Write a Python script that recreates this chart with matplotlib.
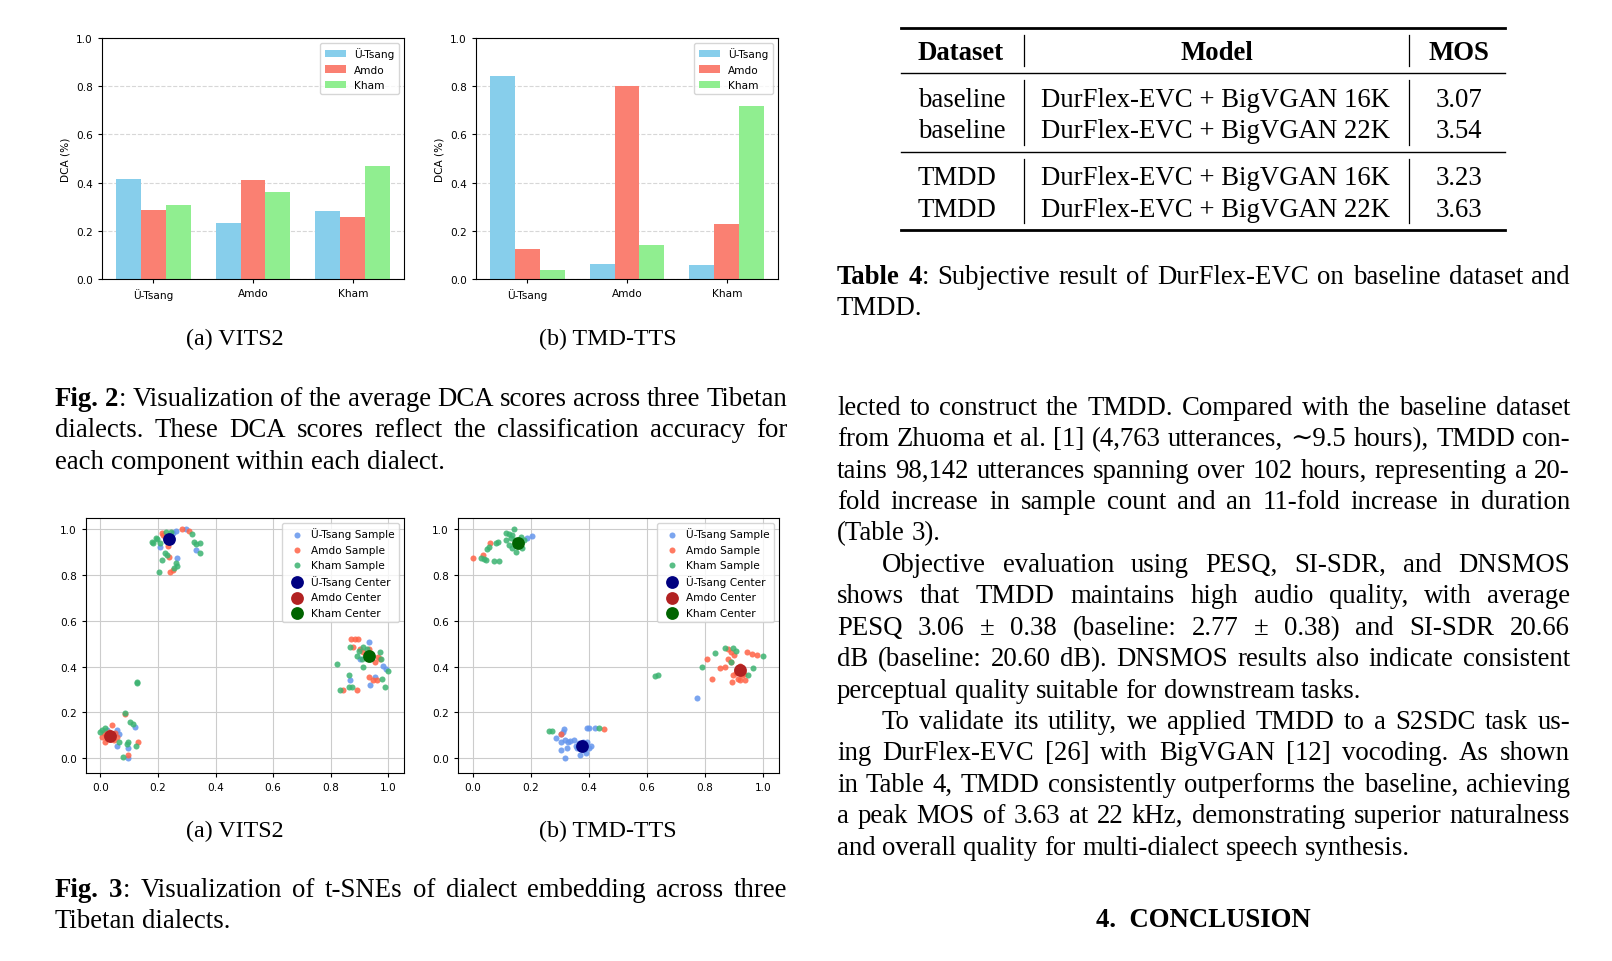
import numpy as np
import matplotlib.pyplot as plt

W, H = 1612, 962
FS = 19.25         # body text size (pt)
SUB = 17.3         # sub-caption size (pt)
TS = 7.6           # chart text size (pt)
SERIF = ['Liberation Serif', 'DejaVu Serif']

# ---- Fig. 2 data (DCA per dialect group) ----
dialects = ['Ü-Tsang', 'Amdo', 'Kham']
vits2_utsang = [0.413, 0.231, 0.284]
vits2_amdo = [0.288, 0.411, 0.256]
vits2_kham = [0.306, 0.363, 0.467]
tmd_utsang = [0.842, 0.062, 0.058]
tmd_amdo = [0.123, 0.802, 0.230]
tmd_kham = [0.037, 0.140, 0.716]

# ---- Fig. 3 data (t-SNE points) ----
vits2_utsang_pts = [(0.223, 0.968), (0.261, 0.994), (0.297, 1.0), (0.331, 0.910), (0.265, 0.874),
                    (0.206, 0.925), (0.254, 0.986), (0.24, 0.95),
                    (0.057, 0.123), (0.065, 0.104), (0.097, 0.043), (0.097, 0.0), (0.12, 0.137),
                    (0.057, 0.051), (0.023, 0.123),
                    (0.933, 0.509), (0.937, 0.318), (0.983, 0.405), (0.994, 0.390), (0.866, 0.340),
                    (0.954, 0.354), (0.903, 0.434)]
vits2_amdo_pts = [(0.215, 0.986), (0.217, 0.975), (0.282, 1.0), (0.309, 0.994), (0.234, 0.928),
                  (0.237, 0.881), (0.242, 0.816), (0.251, 0.821), (0.229, 0.971),
                  (0.011, 0.108), (0.023, 0.087), (0.04, 0.145), (0.046, 0.079), (0.017, 0.072),
                  (0.057, 0.094), (0.086, 0.195), (0.131, 0.072), (0.097, 0.014), (0.029, 0.116),
                  (0.006, 0.094), (0.051, 0.108), (0.02, 0.1), (0.035, 0.082),
                  (0.871, 0.523), (0.886, 0.523), (0.894, 0.520), (0.878, 0.484), (0.903, 0.477),
                  (0.934, 0.477), (0.954, 0.419), (0.966, 0.441), (0.935, 0.354), (0.946, 0.340),
                  (0.96, 0.340), (0.891, 0.296), (0.843, 0.296), (0.971, 0.434), (0.914, 0.463)]
vits2_kham_pts = [(0.179, 0.947), (0.183, 0.939), (0.197, 0.957), (0.229, 0.990), (0.246, 0.990),
                  (0.318, 0.980), (0.327, 0.947), (0.331, 0.936), (0.345, 0.939), (0.345, 0.899),
                  (0.223, 0.899), (0.231, 0.889), (0.263, 0.855), (0.266, 0.838), (0.257, 0.831),
                  (0.214, 0.867), (0.203, 0.812), (0.194, 0.962), (0.206, 0.939),
                  (0.006, 0.123), (0.017, 0.130), (0.0, 0.116), (0.086, 0.199), (0.103, 0.159),
                  (0.112, 0.149), (0.126, 0.329), (0.128, 0.335), (0.063, 0.072), (0.097, 0.069),
                  (0.123, 0.051), (0.078, 0.007), (0.092, 0.06),
                  (0.823, 0.412), (0.863, 0.364), (0.869, 0.484), (0.897, 0.470), (0.914, 0.488),
                  (0.926, 0.477), (0.909, 0.434), (0.914, 0.397), (0.891, 0.448), (0.971, 0.465),
                  (0.975, 0.434), (0.977, 0.347), (0.989, 0.311), (1.0, 0.383), (0.834, 0.296),
                  (0.863, 0.311), (0.874, 0.311), (0.926, 0.448)]
vits2_centers = [(0.24, 0.96), (0.034, 0.097), (0.935, 0.445)]

tmd_utsang_pts = [(0.186, 0.964), (0.206, 0.971), (0.166, 0.947),
                  (0.314, 0.127), (0.311, 0.113), (0.286, 0.087), (0.306, 0.072), (0.32, 0.078),
                  (0.303, 0.036), (0.318, 0.0), (0.326, 0.043), (0.33, 0.069), (0.337, 0.075),
                  (0.349, 0.079), (0.36, 0.043), (0.371, 0.014), (0.389, 0.022), (0.4, 0.043),
                  (0.409, 0.051), (0.394, 0.130), (0.4, 0.133), (0.423, 0.130), (0.366, 0.065),
                  (0.383, 0.036), (0.303, 0.104), (0.357, 0.051), (0.394, 0.069), (0.38, 0.07),
                  (0.37, 0.045), (0.773, 0.263)]
tmd_amdo_pts = [(0.0, 0.874), (0.037, 0.889), (0.059, 0.939), (0.303, 0.104), (0.451, 0.127),
                (0.806, 0.434), (0.823, 0.344), (0.851, 0.393), (0.87, 0.397), (0.88, 0.477),
                (0.889, 0.462), (0.881, 0.434), (0.891, 0.419), (0.897, 0.364), (0.894, 0.332),
                (0.914, 0.347), (0.92, 0.34), (0.92, 0.405), (0.934, 0.370), (0.937, 0.340),
                (0.946, 0.462), (0.963, 0.455), (0.98, 0.451), (0.906, 0.374), (0.926, 0.364),
                (0.91, 0.39), (0.9, 0.45)]
tmd_kham_pts = [(0.114, 0.986), (0.126, 0.980), (0.143, 1.0), (0.135, 0.975), (0.089, 0.947),
                (0.082, 0.939), (0.057, 0.925), (0.051, 0.913), (0.029, 0.877), (0.04, 0.870),
                (0.048, 0.867), (0.074, 0.860), (0.091, 0.860), (0.114, 0.954), (0.126, 0.932),
                (0.137, 0.918), (0.149, 0.903), (0.166, 0.968), (0.171, 0.918), (0.177, 0.954),
                (0.146, 0.952), (0.131, 0.962),
                (0.263, 0.118), (0.274, 0.118), (0.437, 0.130),
                (0.789, 0.397), (0.834, 0.458), (0.869, 0.481), (0.897, 0.481), (0.906, 0.470),
                (0.891, 0.419), (0.949, 0.364), (0.966, 0.395), (1.0, 0.445), (0.629, 0.361),
                (0.637, 0.364)]
tmd_centers = [(0.377, 0.055), (0.922, 0.386), (0.158, 0.939)]

# ---- Table 4 ----
tab_header = ['Dataset', 'Model', 'MOS']
tab_dataset = ['baseline', 'baseline', 'TMDD', 'TMDD']
tab_model = ['DurFlex-EVC + BigVGAN 16K', 'DurFlex-EVC + BigVGAN 22K',
             'DurFlex-EVC + BigVGAN 16K', 'DurFlex-EVC + BigVGAN 22K']
tab_mos = ['3.07', '3.54', '3.23', '3.63']

# ---- text ----
fig2_caption = [
    ('Fig. 2', ': Visualization of the average DCA scores across three Tibetan'),
    ('', 'dialects.  These DCA scores reflect the classification accuracy for'),
    ('', 'each component within each dialect.'),
]
fig3_caption = [
    ('Fig. 3', ':  Visualization of t-SNEs of dialect embedding across three'),
    ('', 'Tibetan dialects.'),
]
tab_caption = [
    ('Table 4', ':  Subjective result of DurFlex-EVC on baseline dataset and'),
    ('', 'TMDD.'),
]
body = [
    (0, 'lected to construct the TMDD. Compared with the baseline dataset'),
    (0, 'from Zhuoma et al. [1] (4,763 utterances, \u223c9.5 hours), TMDD con-'),
    (0, 'tains 98,142 utterances spanning over 102 hours, representing a 20-'),
    (0, 'fold increase in sample count and an 11-fold increase in duration'),
    (0, '(Table 3).'),
    (1, 'Objective evaluation using PESQ, SI-SDR, and DNSMOS'),
    (0, 'shows that TMDD maintains high audio quality, with average'),
    (0, 'PESQ 3.06 \u00b1 0.38 (baseline:  2.77 \u00b1 0.38) and SI-SDR 20.66'),
    (0, 'dB (baseline: 20.60 dB). DNSMOS results also indicate consistent'),
    (0, 'perceptual quality suitable for downstream tasks.'),
    (1, 'To validate its utility, we applied TMDD to a S2SDC task us-'),
    (0, 'ing DurFlex-EVC [26] with BigVGAN [12] vocoding.  As shown'),
    (0, 'in Table 4, TMDD consistently outperforms the baseline, achieving'),
    (0, 'a peak MOS of 3.63 at 22 kHz, demonstrating superior naturalness'),
    (0, 'and overall quality for multi-dialect speech synthesis.'),
]

fig = plt.figure(figsize=(W / 100, H / 100), dpi=100)


def ax_px(left, top, right, bottom):
    return fig.add_axes([left / W, 1 - bottom / H, (right - left) / W, (bottom - top) / H])


# bar charts
def bar_panel(ax, u, a, k):
    x = np.arange(len(dialects))
    w = 0.25
    ax.bar(x - w, u, w, color='skyblue', label='Ü-Tsang')
    ax.bar(x, a, w, color='salmon', label='Amdo')
    ax.bar(x + w, k, w, color='lightgreen', label='Kham')
    ax.set_xticks(x)
    ax.set_xticklabels(dialects)
    ax.set_ylim(0, 1.0)
    ax.set_ylabel('DCA (%)', fontsize=TS)
    ax.tick_params(labelsize=TS, length=3)
    ax.grid(axis='y', linestyle='--', alpha=0.5)
    ax.set_axisbelow(True)
    ax.legend(loc='upper right', fontsize=TS)


bar_panel(ax_px(102, 39, 404, 280), vits2_utsang, vits2_amdo, vits2_kham)
bar_panel(ax_px(476, 39, 778, 280), tmd_utsang, tmd_amdo, tmd_kham)


# scatter charts
def scatter_panel(ax, u, a, k, centers):
    for pts, c, lab in [(u, 'cornflowerblue', 'Ü-Tsang Sample'),
                        (a, 'tomato', 'Amdo Sample'),
                        (k, 'mediumseagreen', 'Kham Sample')]:
        p = np.array(pts)
        ax.scatter(p[:, 0], p[:, 1], s=19, color=c, alpha=0.85, label=lab, linewidths=0)
    for (cx, cy), c, lab in zip(centers, ['navy', 'firebrick', 'darkgreen'],
                                ['Ü-Tsang Center', 'Amdo Center', 'Kham Center']):
        ax.scatter([cx], [cy], s=85, color=c, label=lab, linewidths=0)
    ax.set_xlim(-0.05, 1.055)
    ax.set_ylim(-0.065, 1.05)
    ax.set_xticks(np.arange(0, 1.01, 0.2))
    ax.set_yticks(np.arange(0, 1.01, 0.2))
    ax.tick_params(labelsize=TS, length=3)
    ax.grid(True, color='#cccccc', linewidth=0.8)
    ax.set_axisbelow(True)
    ax.legend(loc='upper right', fontsize=TS, handletextpad=0.3, borderpad=0.4)


scatter_panel(ax_px(86, 519, 404, 774), vits2_utsang_pts, vits2_amdo_pts, vits2_kham_pts, vits2_centers)
scatter_panel(ax_px(458, 519, 779, 774), tmd_utsang_pts, tmd_amdo_pts, tmd_kham_pts, tmd_centers)

# overlay for page text, in pixel coordinates
ax0 = fig.add_axes([0, 0, 1, 1], zorder=-1)
ax0.set_xlim(0, W)
ax0.set_ylim(H, 0)
ax0.axis('off')
r = fig.canvas.get_renderer()
SPACE = 0.25 * FS * 100 / 72
BASE = 10  # baseline below visual line centre


def tokens_of(bold, line):
    toks = [[(w, 'bold')] for w in bold.split()]
    words = line.split()
    if bold and line.startswith(':'):
        toks[-1].append((words[0], 'normal'))
        words = words[1:]
    toks += [[(w, 'normal')] for w in words]
    return toks


def text_line(x0, x1, yc, toks, justify=True):
    y = yc + BASE
    placed, widths = [], []
    for tok in toks:
        pieces, tw = [], 0
        for s, wt in tok:
            t = ax0.text(0, y, s, fontsize=FS, family=SERIF, weight=wt, va='baseline')
            pw = t.get_window_extent(r).width
            pieces.append((t, pw))
            tw += pw
        placed.append(pieces)
        widths.append(tw)
    gap = SPACE
    if justify and len(toks) > 1:
        gap = (x1 - x0 - sum(widths)) / (len(toks) - 1)
    x = x0
    for pieces, tw in zip(placed, widths):
        xx = x
        for t, pw in pieces:
            t.set_x(xx)
            xx += pw
        x += tw + gap


def paragraph(x0, x1, y0, step, lines):
    for i, (bold, line) in enumerate(lines):
        last = i == len(lines) - 1
        text_line(x0, x1, y0 + i * step, tokens_of(bold, line), justify=not last)


STEP = 31.4
LX0, LX1 = 55, 787
RX0, RX1 = 837, 1570
paragraph(LX0, LX1, 396, STEP, fig2_caption)
paragraph(LX0, LX1, 887, STEP, fig3_caption)
paragraph(RX0, RX1, 274, STEP, tab_caption)

short_lines = {4, 9, 14}
for i, (ind, line) in enumerate(body):
    text_line(RX0 + 45 * ind, RX1, 405 + i * STEP, tokens_of('', line), justify=i not in short_lines)

# sub-captions
for xc, y, s in [(235, 337, '(a) VITS2'), (608, 337, '(b) TMD-TTS'),
                 (235, 829, '(a) VITS2'), (608, 829, '(b) TMD-TTS')]:
    ax0.text(xc, y + 8, s, fontsize=SUB, family=SERIF, ha='center', va='baseline')

ax0.text(1203, 917 + BASE, '4.  CONCLUSION', fontsize=FS, family=SERIF, weight='bold',
         ha='center', va='baseline')

# table
tx0, tx1 = 901, 1505
for y, lw in [(29, 2.0), (74, 1.0), (153, 1.0), (231, 2.0)]:
    ax0.plot([tx0, tx1], [y, y], color='black', lw=lw)
for xv in [1024, 1409]:
    for ya, yb in [(36, 67), (81, 146), (160, 224)]:
        ax0.plot([xv, xv], [ya, yb], color='black', lw=0.9)
ax0.text(918, 50 + BASE, tab_header[0], fontsize=FS, family=SERIF, weight='bold', va='baseline')
ax0.text(1217, 50 + BASE, tab_header[1], fontsize=FS, family=SERIF, weight='bold', ha='center', va='baseline')
ax0.text(1459, 50 + BASE, tab_header[2], fontsize=FS, family=SERIF, weight='bold', ha='center', va='baseline')
row_y = [97, 128, 175, 207]
for y, d, m, s in zip(row_y, tab_dataset, tab_model, tab_mos):
    ax0.text(918, y + BASE, d, fontsize=FS, family=SERIF, va='baseline')
    ax0.text(1041, y + BASE, m, fontsize=FS, family=SERIF, va='baseline')
    ax0.text(1459, y + BASE, s, fontsize=FS, family=SERIF, ha='center', va='baseline')

fig.savefig('out.png', dpi=100)
